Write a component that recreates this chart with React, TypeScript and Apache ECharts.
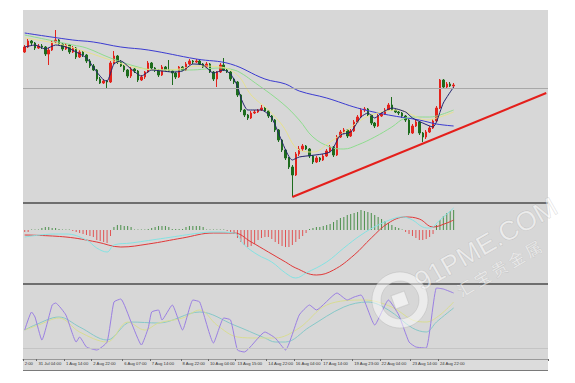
import React, { useEffect, useRef } from "react";
import * as echarts from "echarts";

// ---------- data ----------
const TOTAL_SLOTS = 153;

const opens = [150,155,161,159,154,156,155,148,152,160, 162,158,153,157,150,154,145,150,147,141, 136,132,123,119,121,120,139,146,140,136, 132,126,133,131,122,125,130,139,134,132, 127,135,132,131,129,125,135,132,138,141, 140,141,138,135,138,130,123,130,137,132, 130,123,120,107,92,87,84,89,90,92, 94,91,86,82,72,62,52,44,35,27, 48,53,56,53,46,40,44,42,46,51, 55,47,65,70,72,66,71,80,85,92, 93,87,79,76,86,88,92,97,92,90, 89,86,82,69,76,80,69,65,70,74, 81,94,122,115,118,116];
const closes = [155,161,159,154,156,155,148,152,160,162, 158,153,157,150,154,145,150,147,141,136, 132,123,119,121,120,139,146,140,136,132, 126,133,131,122,125,130,139,134,132,127, 135,132,131,129,125,135,132,138,141,140, 141,138,135,138,130,123,130,137,132,130, 123,120,107,92,87,84,89,90,92,94, 91,86,82,72,62,52,44,35,27,48, 53,56,53,46,40,44,42,46,51,55, 47,65,70,72,66,71,80,85,92,93, 87,79,76,86,88,92,97,92,90,89, 86,82,69,76,80,69,65,70,74,81, 94,122,115,118,116,117];
const highs = [157,163,162,160,158,158,156,154,162,172, 163,159,159,158,156,155,152,151,148,143, 138,133,125,123,122,141,151,147,142,137, 133,135,134,132,127,131,141,140,135,133, 137,136,142,132,130,136,136,140,143,142, 143,142,139,140,139,131,131,139,144,133, 131,124,121,108,93,88,91,92,93,97, 95,92,87,83,73,63,53,45,37,50, 56,58,57,54,47,46,45,48,53,57, 56,67,72,74,73,73,82,87,94,95, 94,88,80,88,90,94,99,105,93,91, 90,87,83,78,82,81,70,72,76,83, 96,123,123,120,120,119];
const lows = [149,154,157,152,153,153,146,137,151,159, 157,151,152,148,149,143,144,145,139,134, 131,121,118,118,114,119,138,138,135,130, 124,124,129,120,121,123,129,133,130,125, 126,131,130,117,123,124,131,131,137,138, 139,137,134,134,129,121,115,129,131,129, 121,118,105,90,85,82,83,88,89,91, 90,84,80,70,60,50,42,33,5,26, 46,51,52,44,38,39,40,41,45,50, 45,46,64,68,64,65,70,79,84,90, 85,77,74,75,85,87,91,91,89,87, 84,80,67,68,75,67,60,63,69,73, 80,93,114,114,115,114];

const currentPrice = 113.5;

const maLong = [[0,169],[14,162],[20,160],[28,155],[36,152],[50,143],[60,138],[70,123],[76,118],[80,111],[88,104],[97,94],[106,87],[115,82],[120,78],[125,76]];
const maMid = [[0,167],[14,157],[18,154],[25,144],[33,135],[38,132],[48,132],[57,134],[61,132],[63,129],[66,122],[75,99],[80,82],[84,65],[89,55],[93,53],[97,57],[102,65],[107,75],[111,84],[114,85],[118,85],[121,87],[125,92]];
const maYellow = [[0,164],[10,158],[18,150],[25,142],[33,134],[42,132],[51,136],[57,135],[62,127],[66,107],[71,92],[75,77],[80,52],[84,50],[89,60],[94,72],[99,84],[104,90],[109,92],[113,87],[117,82],[121,85],[125,90]];
const maShort = [[0,155],[3,157],[6,153],[9,157],[12,155],[15,150],[18,144],[21,130],[23,122],[24,121],[26,138],[28,141],[31,133],[34,126],[37,132],[40,131],[43,130],[46,131],[49,138],[52,137],[55,129],[58,132],[60,128],[62,116],[63,104],[65,92],[69,92],[72,84],[78,42],[80,45],[89,50],[92,67],[95,70],[98,85],[100,89],[102,84],[104,89],[107,94],[111,90],[113,84],[116,79],[119,75],[120,80],[122,99],[125,115]];

const trendStart = [78, 5];
const trendEnd = [152, 109];

const macdHist = [-2,-2,0.5,0.5,0.5,2,3,3,2,2, 1,0.5,0.5,0.5,-1,-2,-3,-4,-5,-6, -7,-10,-11,-12,-13,-6,3,5,5,4, 4,3,0.5,0.5,0.5,0.5,1,2,3,4, 4,4,3,1,1,1,1,3,4,4, 4,4,3,0.5,0.5,0.5,0.5,0.5,0.5,-1, -2,-4,-8,-12,-15,-17,-16,-14,-10,-8, -7,-7,-9,-12,-14,-16,-17,-17,-15,-12, -9,-6,-3,1,2,3,3,4,5,6, 8,10,12,13,15,16,17,18,20,19, 18,17,15,13,11,9,7,5,3,2, 0.5,-2,-4,-6,-8,-10,-10,-9,-7,-4, 5,10,14,17,19,20];
const macdMain = [[0,-7],[9,-4],[12,-4],[18,-10],[21,-18],[24,-22],[26,-15],[31,-13],[41,-8],[51,-3],[55,-2],[61,-3],[64,-15],[68,-25],[72,-32],[76,-43],[79,-48],[82,-43],[88,-32],[93,-18],[98,-5],[103,5],[108,12],[110,13],[113,10],[116,3],[118,2],[121,10],[125,22]];
const macdSignal = [[0,-5],[12,-7],[21,-12],[28,-17],[36,-14],[46,-8],[55,-3],[61,-3],[66,-12],[71,-22],[76,-32],[79,-38],[85,-45],[90,-40],[96,-25],[101,-8],[106,7],[111,13],[115,11],[119,3],[123,7],[125,10]];

const stochK = [[0,29],[2,47],[3,42],[5,19],[8,54],[9,56],[12,44],[15,17],[16,22],[18,12],[21,9],[24,17],[26,57],[28,60],[31,37],[34,14],[36,31],[37,47],[39,49],[40,39],[43,54],[46,29],[49,59],[51,57],[55,16],[58,41],[60,39],[62,9],[64,7],[70,27],[73,21],[76,9],[80,44],[83,54],[85,49],[91,66],[94,59],[96,62],[98,64],[102,34],[106,59],[109,44],[112,17],[114,12],[117,11],[120,71],[122,70],[125,66]];
const stochD = [[0,29],[4,34],[10,41],[16,27],[24,17],[30,37],[35,29],[39,36],[46,41],[51,49],[56,34],[62,22],[68,21],[73,21],[80,31],[88,54],[99,59],[107,52],[113,39],[117,37],[121,44],[125,57]];
const stochSlow = [[0,29],[3,34],[10,42],[16,32],[24,19],[31,37],[39,36],[51,47],[61,34],[70,21],[73,17],[76,17],[83,32],[93,52],[100,57],[106,49],[113,31],[117,27],[120,37],[125,51]];
const stochLevel = 11;

const labelBars = [0, 4, 12, 20, 29, 37, 46, 54, 62, 71, 79, 87, 96, 104, 113, 121];
const labelTexts = ["2:00", "31 Jul 04:00", "1 Aug 14:00", "2 Aug 22:00", "6 Aug 07:00", "7 Aug 14:00", "8 Aug 22:00", "10 Aug 04:00", "13 Aug 15:00", "14 Aug 22:00", "16 Aug 04:00", "17 Aug 14:00", "19 Aug 23:00", "22 Aug 04:00", "23 Aug 14:00", "24 Aug 22:00"];

// ---------- chart ----------
const UP = "#e3231c";
const DOWN = "#1d6c1d";
const PANEL = "#d7d7d7";

export default function App() {
  const ref = useRef<HTMLDivElement>(null);

  useEffect(() => {
    if (!ref.current) return;
    const chart = echarts.init(ref.current, undefined, { renderer: "svg" });
    const categories = Array.from({ length: TOTAL_SLOTS }, (_, i) => String(i));
    const labelMap: Record<number, string> = {};
    labelBars.forEach((b, k) => (labelMap[b] = labelTexts[k]));
    const candles = opens.map((o, i) => [o, closes[i], lows[i], highs[i]]);

    const grids = [
      { left: 23, top: 10, width: 525, height: 192 },
      { left: 23, top: 204, width: 525, height: 79 },
      { left: 23, top: 285, width: 525, height: 74 },
    ].map((g) => ({ ...g, show: true, backgroundColor: PANEL, borderWidth: 0 }));

    const xAxes = [0, 1, 2].map((gi) => ({
      type: "category" as const,
      gridIndex: gi,
      data: categories,
      boundaryGap: true,
      axisLine: { show: gi === 2, lineStyle: { color: "#9a9a9a", width: 1 } },
      axisTick: {
        show: gi === 2,
        interval: (idx: number) => labelMap[idx] !== undefined,
        length: 2,
        lineStyle: { color: "#666" },
      },
      axisLabel: {
        show: gi === 2,
        interval: (idx: number) => labelMap[idx] !== undefined,
        formatter: (_v: string, idx: number) => labelMap[idx] ?? "",
        align: "left",
        margin: 2.5,
        fontSize: 4.2,
        fontFamily: "Liberation Sans, Arial, sans-serif",
        color: "#333",
      },
      splitLine: { show: false },
    }));

    const yBase = { type: "value" as const, show: false, splitLine: { show: false }, scale: false };
    const yAxes = [
      { ...yBase, gridIndex: 0, min: 0, max: 192 },
      { ...yBase, gridIndex: 1, min: -53, max: 26 },
      { ...yBase, gridIndex: 2, min: 0, max: 74 },
    ];

    const line = (data: number[][], color: string, axis: number, width = 1, smooth: number | boolean = 0.35) => ({
      type: "line" as const,
      xAxisIndex: axis,
      yAxisIndex: axis,
      data,
      smooth,
      symbol: "none",
      showSymbol: false,
      silent: true,
      lineStyle: { color, width },
    });

    const option: any = {
      animation: false,
      backgroundColor: "#ffffff",
      grid: grids,
      xAxis: xAxes,
      yAxis: yAxes,
      series: [
        line(maLong, "#3b3bd0", 0, 1, 0.4),
        line(maMid, "#8edc8e", 0, 1, 0.4),
        line(maYellow, "#e6e18c", 0, 1, 0.4),
        {
          type: "candlestick",
          xAxisIndex: 0,
          yAxisIndex: 0,
          data: candles,
          barWidth: 2,
          silent: true,
          itemStyle: { color: UP, color0: DOWN, borderColor: UP, borderColor0: DOWN, borderWidth: 1 },
          markLine: {
            silent: true,
            symbol: ["none", "none"],
            label: { show: false },
            lineStyle: { color: "#a8a8a8", width: 1, type: "solid" },
            data: [{ yAxis: currentPrice }],
          },
        },
        line(maShort, "#23236e", 0, 1, 0.2),
        {
          type: "line",
          xAxisIndex: 0,
          yAxisIndex: 0,
          data: [trendStart, trendEnd],
          symbol: "none",
          silent: true,
          lineStyle: { color: "#e41f1b", width: 2 },
        },
        {
          type: "bar",
          xAxisIndex: 1,
          yAxisIndex: 1,
          data: macdHist,
          barWidth: 1,
          silent: true,
          itemStyle: { color: (p: any) => (p.value >= 0 ? "#4a8f4a" : "#e05454") },
        },
        line(macdSignal, "#e03838", 1, 1, 0.4),
        line(macdMain, "#84e2e2", 1, 1, 0.4),
        line(stochSlow, "#86c8c8", 2, 1, 0.35),
        line(stochD, "#d8dc92", 2, 1, 0.35),
        {
          ...line(stochK, "#9a7fe2", 2, 1, 0.15),
          markLine: {
            silent: true,
            symbol: ["none", "none"],
            label: { show: false },
            lineStyle: { color: "#c4c4c4", width: 1, type: "solid" },
            data: [{ yAxis: stochLevel }],
          },
        },
      ],
      graphic: [
        { type: "rect", z: 0, shape: { x: 23, y: 202, width: 525, height: 2 }, style: { fill: "#6e6e6e" } },
        { type: "rect", z: 0, shape: { x: 23, y: 283, width: 525, height: 2 }, style: { fill: "#6e6e6e" } },
        { type: "rect", z: -1, shape: { x: 23, y: 359, width: 525, height: 11 }, style: { fill: "#dcdcdc" } },
        { type: "line", z: 0, shape: { x1: 23, y1: 370.5, x2: 548, y2: 370.5 }, style: { stroke: "#7a7a7a", lineWidth: 1 } },
        // watermark
        { type: "ring", z: 100, shape: { cx: 400, cy: 300, r: 28, r0: 19 }, style: { fill: "rgba(255,255,255,0.5)", stroke: "rgba(150,150,150,0.25)" } },
        { type: "rect", z: 100, x: 400, y: 300, rotation: 0.35, shape: { x: -7, y: -7, width: 14, height: 14 }, style: { fill: "rgba(255,255,255,0.6)", stroke: "rgba(150,150,150,0.25)" } },
        { type: "text", z: 100, x: 486, y: 244, rotation: 0.52, style: { text: "91PME.COM", fontSize: 27, fontFamily: "Liberation Sans, Arial, sans-serif", fill: "rgba(255,255,255,0.55)", stroke: "rgba(140,140,140,0.3)", lineWidth: 0.8, align: "center", verticalAlign: "middle" } },
        { type: "text", z: 100, x: 499, y: 268, rotation: 0.52, style: { text: "汇 宝 贵 金 属", fontSize: 16, fontFamily: "Noto Sans CJK SC, sans-serif", fill: "rgba(255,255,255,0.55)", stroke: "rgba(140,140,140,0.25)", lineWidth: 0.6, align: "center", verticalAlign: "middle" } },
      ],
    };
    chart.setOption(option);
    return () => chart.dispose();
  }, []);

  return <div ref={ref} style={{ position: "fixed", left: 0, top: 0, width: 575, height: 383 }} />;
}
